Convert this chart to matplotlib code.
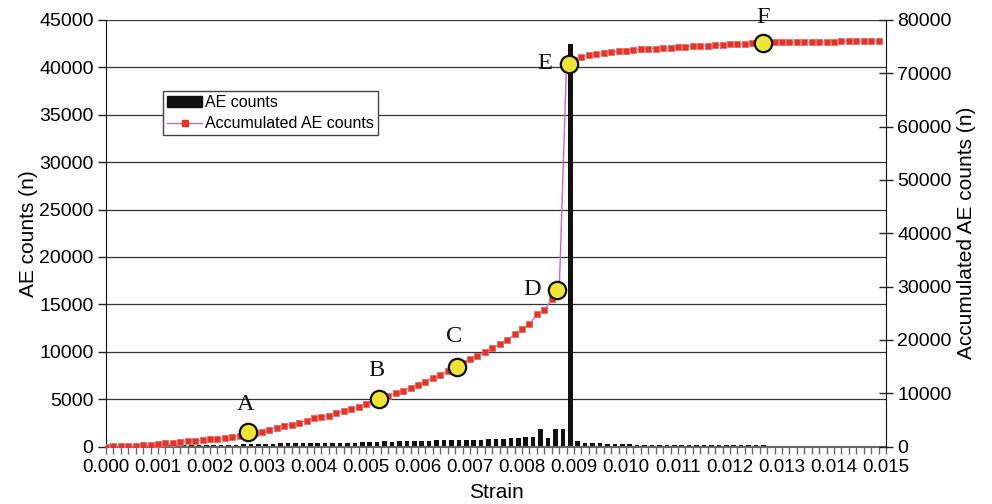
import numpy as np
import matplotlib
matplotlib.use("Agg")
import matplotlib.pyplot as plt
from matplotlib.patches import Patch
from matplotlib.lines import Line2D

plt.rcParams["font.family"] = ["Liberation Sans", "DejaVu Sans"]

# ---------------- data ----------------
strain_labels = ["0.000", "0.001", "0.002", "0.003", "0.004", "0.005", "0.006", "0.007",
                 "0.008", "0.009", "0.010", "0.011", "0.012", "0.013", "0.014", "0.015"]

ae_counts = ([0, 20, 40, 50, 60]
             + [100, 110, 120, 120, 130, 130, 130, 130, 130, 140]
             + [150, 180, 210, 240, 270, 290]
             + [300, 310, 320, 330, 340, 350, 360, 370, 380]
             + [390, 400, 410, 420, 430, 440, 450]
             + [530, 460]
             + [600, 600, 600, 600, 600]
             + [650, 650, 650, 650, 650, 650, 650]
             + [800, 800, 800]
             + [900, 900]
             + [1000, 1000]
             + [1800, 900, 1800, 1800, 42500]
             + [600, 400, 400, 400, 280, 280, 280, 280]
             + [170, 170, 170, 170, 170, 170]
             + [110, 110, 110, 110, 110, 110, 110, 110, 110, 110, 110, 110]
             + [0] * 16)

accumulated = [0, 20, 50, 90, 150, 250, 340, 460, 580, 700,
               830, 960, 1080, 1210, 1340, 1470, 1650, 1840, 2060, 2330,
               2600, 2780, 3160, 3530, 3900, 4100, 4470, 4850, 5300, 5600,
               5790, 6240, 6670, 6990, 7360, 7920, 8450, 9000, 9530, 9980,
               10410, 11030, 11540, 12160, 12790, 13410, 14070, 14900, 15650, 16350,
               17020, 17770, 18520, 19220, 19970, 21040, 22030, 22910, 24780, 25590,
               27590, 28780, 71800, 72500, 73000, 73400, 73650, 73850, 74000, 74150,
               74270, 74380, 74480, 74560, 74640, 74720, 74800, 74880, 74960, 75040,
               75120, 75200, 75280, 75360, 75430, 75500, 75560, 75620, 75680, 75740,
               75790, 75830, 75860, 75880, 75890, 75900, 75900, 75910, 75920, 76050,
               76060, 76070, 76070, 76080, 76080]

point_labels = ["A", "B", "C", "D", "E", "F"]
point_pos = [19.1, 36.8, 47.2, 60.7, 62.3, 88.4]          # category position
point_values = [2660, 8860, 14970, 29360, 71760, 75700]   # accumulated counts
label_offsets = [(-2, 20), (-2, 21), (-2, 22), (-18, 0), (-17, 0), (0, 18)]

n_cat = len(accumulated)
cat = np.arange(n_cat)

# ---------------- figure ----------------
fig = plt.figure(figsize=(9.92, 5.04), dpi=100)
ax = fig.add_axes([106 / 992, 57.5 / 504, 780 / 992, 426.5 / 504])

ax.bar(cat + 0.5, ae_counts, width=0.62, color="#111111", zorder=2)
ax.set_xlim(0, n_cat)
ax.set_ylim(0, 45000)
ax.set_yticks(np.arange(0, 45001, 5000))
ax.set_xticks(np.arange(0, n_cat + 1, 7))
ax.set_xticklabels(strain_labels)
ax.set_xticks(np.arange(0, n_cat + 1), minor=True)
ax.set_axisbelow(True)
ax.grid(axis="y", color="#333333", lw=0.9, zorder=0)

ax.tick_params(axis="y", direction="out", length=6, width=1, labelsize=14, pad=3, color="#222222")
ax.tick_params(axis="x", which="both", direction="out", length=5, width=1,
               color="#666666", labelsize=13.5, pad=4)
for s in ["top", "right"]:
    ax.spines[s].set_visible(False)
ax.spines["left"].set_color("#111111")
ax.spines["bottom"].set_color("#666666")
ax.spines["bottom"].set_linewidth(1.5)

ax.set_ylabel("AE counts (n)", fontsize=15, labelpad=1)
ax.set_xlabel("Strain", fontsize=15, labelpad=5)

ax2 = ax.twinx()
ax2.set_ylim(0, 80000)
ax2.set_yticks(np.arange(0, 80001, 10000))
ax2.plot(cat, accumulated, color="#CC66CC", lw=1.0, marker="s", ms=4.8,
         mfc="#E3342A", mec="#EE6A60", mew=0.6, zorder=3)
ax2.plot(point_pos, point_values, "o", ms=12.5, mfc="#EDE437", mec="#111111",
         mew=1.6, zorder=5, clip_on=False)
for lbl, px, py, off in zip(point_labels, point_pos, point_values, label_offsets):
    ax2.annotate(lbl, (px, py), xytext=off, textcoords="offset points",
                 ha="center", va="center", fontsize=17.5,
                 family="Liberation Serif", color="#111111", zorder=6,
                 annotation_clip=False)

ax2.tick_params(axis="y", direction="inout", length=10, width=1, labelsize=14, pad=3,
                color="#222222")
for s in ["top", "left", "bottom"]:
    ax2.spines[s].set_visible(False)
ax2.spines["right"].set_color("#111111")
ax2.set_ylabel("Accumulated AE counts (n)", fontsize=15, labelpad=4)

handles = [Patch(facecolor="#111111", edgecolor="#111111"),
           Line2D([0], [0], color="#CC66CC", lw=1.0, marker="s", ms=5,
                  mfc="#E3342A", mec="#E3342A")]
leg = ax2.legend(handles, ["AE counts", "Accumulated AE counts"],
                 loc="upper left", bbox_to_anchor=(0.073, 0.8335),
                 borderaxespad=0, fontsize=11.5, frameon=True, fancybox=False,
                 edgecolor="#444444", framealpha=1, handlelength=2.2,
                 handletextpad=0.2, labelspacing=0.4, borderpad=0.25)
leg.get_frame().set_linewidth(1.0)

fig.savefig("out.png", dpi=100)
